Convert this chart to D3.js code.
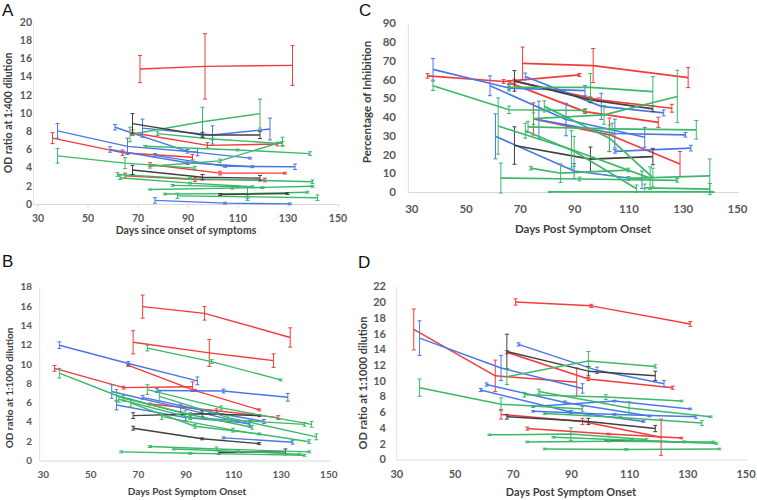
<!DOCTYPE html>
<html><head><meta charset="utf-8">
<script src="https://cdn.jsdelivr.net/npm/d3@7"></script>
<style>
html,body{margin:0;padding:0;background:#fff;}
svg{display:block;}
</style></head>
<body>
<svg id="chart" width="757" height="500"></svg>
<script>
// ---------------- DATA ----------------
const seriesColors = {R:"#f23b3b", B:"#4a78e6", G:"#3cb86a", K:"#404040"};
const xTickValues = [30,50,70,90,110,130,150];

// Panel A : OD ratio at 1:400 dilution
const panelA_colors = ["R","R","R","R","R","B","B","B","B","B","B","G","G","G","G","G","G","G","G","G","G","G","K","K","K"];
const panelA_days = [[71,97,132],[36,64,92],[68,98,126],[75,103,129],[65,93,121],[38,66,94],[61,90,115],[72,100,123],[59,90,116],[77,105,133],[77,105,131],[67,96,119],[38,65,93],[75,103,128],[73,110,139],[78,100,128],[62,91,140],[63,91,116],[84,110,120],[75,108,140],[81,114,138],[86,114,142],[68,96,119],[68,96,119],[103,130]];
const panelA_values = [[14.9,15.2,15.3],[7.3,5.7,5.2],[7.9,6.5,6.65],[4.4,3.45,3.45],[3.15,2.75,2.7],[8.1,6.4,5.75],[8.5,5.85,5.1],[8.4,7.65,8.3],[6.05,4.6,4.15],[5.4,4.2,4.15],[0.45,0.15,0.07],[7.7,9.1,10.0],[5.35,4.55,4.0],[4.2,4.8,6.9],[6.4,6.0,5.6],[7.8,7.2,6.7],[3.3,2.85,2.5],[2.95,2.35,1.95],[2.1,1.95,1.85],[1.65,1.8,2.0],[1.15,1.2,1.35],[0.95,0.85,0.75],[8.9,7.65,7.65],[3.8,3.0,2.9],[1.1,1.2]];
const panelA_errors = [[1.5,3.6,2.2],[0.6,0.3,0.3],[0.3,0.3,0.2],[0.2,0.2,0.1],[0.3,0.2,0.2],[0.8,0.9,0.4],[0.3,0.2,0.1],[1.0,1.0,1.2],[0.3,0.2,0.1],[0.2,0.1,0.3],[0.3,0.1,0.1],[0.8,1.6,1.6],[0.8,0.6,0.2],[0.2,0.2,0.5],[0.1,0.1,0.2],[0.2,0.1,0.2],[0.2,0.1,0.2],[0.2,0.1,0.1],[0.1,0.1,0.1],[0.05,0.1,0.1],[0.1,0.75,0.1],[0.3,0.2,0.3],[1.1,0.3,0.4],[0.5,0.3,0.3],[0.1,0.1]];

// Panel C : Percentage of Inhibition
const panelC_colors = ["R","R","R","R","R","B","B","B","B","B","B","K","K","G","G","G","G","G","G","G","G","G","G","G","G"];
const panelC_days = [[71,97,132],[36,64,92],[68,99,126],[66,94,121],[75,103,129],[38,66,94],[59,87,116],[72,100,123],[61,90,115],[77,105,131],[105,133],[68,96,119],[68,96,119],[38,66,94],[75,101,128],[66,96,119],[62,89,118],[110,140],[63,92,128],[74,85,110],[81,141],[79,103,119],[72,90,113],[116,140],[73,104,135]];
const panelC_values = [[69,67.8,61.4],[62.3,59.3,62.8],[59.5,49.5,45],[58.7,43.2,37.5],[39.3,30.8,15.2],[65.8,55.8,54.4],[57,39,29.5],[62,46,42.5],[30,11.5,6.8],[38.8,31.5,30.8],[22,23.7],[59.6,49.5,44.7],[25.1,17.8,19.2],[57,44.2,43.8],[39.5,41.5,51.3],[56.2,56.2,53.9],[35.5,23,7.7],[7.5,8.9],[7.7,7.2,6.5],[13,10.3,12],[0.3,0.3],[46,29,8],[33,22,2],[2.5,1.8],[35,34,33.5]];
const panelC_errors = [[8.7,9.1,5.4],[1.2,1,0.8],[1,1,2.1],[1,1,2.7],[8.6,9,6.7],[5.8,1,2.7],[5.3,8.7,5.3],[1.8,7,1.6],[12,4,4.7],[10,7.7,1.2],[1,1.5],[5.5,1.5,1.5],[10,6.5,4.4],[2.5,2,1],[3,5,14],[2,7.4,8],[15,10,6],[1,9],[8,1,1],[1,5,1],[0.3,0.3],[3,7,5],[4,8,2],[2,3],[3,3,5]];

// Panel B : OD ratio at 1:1000 dilution
const panelB_colors = ["R","R","R","R","R","B","B","B","B","B","B","K","K","K","G","G","G","G","G","G","G","G","G","G","G"];
const panelB_days = [[72,98,134],[68,100,127],[35,64,93],[66,94,121],[75,103,129],[37,66,95],[59,88,117],[61,90,117],[78,106,133],[72,100,123],[106,135],[68,97,121],[68,97,121],[104,132],[74,101,130],[37,64,92],[61,90,118],[62,92,140],[74,105,143],[79,108,145],[80,110,142],[67,94,121],[75,103,142],[63,92,140],[85,112,138]];
const panelB_values = [[16,15.3,12.8],[12.3,11.2,10.4],[9.6,7.6,7.7],[9.9,7.3,5.3],[5.9,5.2,4.5],[12,10.1,8.3],[7.2,5.5,3.8],[5.8,4.5,3.9],[7.3,7.25,6.6],[6.6,5.1,4.1],[2.4,1.95],[4.7,4.9,4.7],[3.4,2.3,1.8],[0.9,0.95],[11.7,10.3,8.4],[9.1,6.5,4.8],[6.8,4.9,3.5],[6.4,4.5,3.8],[7.4,5.5,3.8],[6.7,4.5,2.5],[4.6,3.2,2.0],[6.0,3.6,2.8],[1.5,1.25,0.95],[0.95,0.8,0.6],[1.25,1.0,0.7]];
const panelB_errors = [[1.2,0.7,1.0],[1.2,1.4,0.7],[0.3,0.15,0.5],[0.1,0.1,0.1],[0.1,0.2,0.2],[0.35,0.2,0.4],[0.7,0.4,0.3],[0.5,0.3,0.3],[0.2,0.2,0.4],[0.2,0.2,0.2],[0.1,0.2],[0.3,0.3,0.1],[0.2,0.1,0.1],[0.2,0.3],[0.3,0.2,0.1],[0.5,0.3,0.2],[0.6,0.3,0.2],[0.3,0.2,0.2],[0.5,0.2,0.3],[0.5,0.2,0.3],[0.3,0.2,0.2],[0.4,0.2,0.1],[0.1,0.2,0.1],[0.1,0.1,0.1],[0.1,0.1,0.1]];

// Panel D : OD ratio at 1:1000 dilution
const panelD_colors = ["R","R","R","R","R","B","B","B","B","B","B","K","K","K","G","G","G","G","G","G","G","G","G"];
const panelD_days = [[71,97,131],[36,64,92],[68,96,125],[66,94,121],[75,103,128],[38,66,94],[72,99,122],[59,90,115],[61,88,117],[77,105,131],[77,105,133],[68,96,119],[68,96,119],[102,129],[38,66,94],[68,96,119],[74,102,128],[79,110,138],[81,107,135],[62,90,116],[75,103,139],[81,109,141],[84,111,140]];
const panelD_values = [[20.1,19.6,17.3],[16.6,10.7,9.9],[13.7,10.3,9.2],[5.8,4.9,2.9],[4.0,3.3,2.8],[15.5,11.7,9.1],[14.7,11.4,9.7],[8.9,6.1,4.9],[9.6,7.3,5.6],[6.8,7.5,6.5],[6.2,5.8,5.5],[13.8,11.3,10.7],[5.5,4.9,4.0],[2.5,2.3],[9.2,7.1,6.5],[10.6,12.6,11.9],[8.3,8.0,7.5],[8.7,6.6,5.5],[5.9,5.4,4.7],[3.2,3.3,2.6],[2.3,2.4,2.3],[1.4,1.35,1.4],[2.9,2.5,2.1]];
const panelD_errors = [[0.4,0.2,0.3],[2.6,2.0,1.8],[0.2,0.2,0.2],[0.6,0.4,2.3],[0.2,0.1,0.1],[2.2,1.6,0.6],[0.2,0.4,0.4],[0.2,0.2,0.1],[0.2,0.2,0.1],[0.1,0.1,0.1],[0.1,0.1,0.2],[2.2,0.6,0.6],[0.3,0.4,0.4],[0.1,0.1],[1.1,0.8,0.3],[1.0,1.2,0.2],[0.3,0.3,0.1],[0.3,0.8,0.1],[0.1,0.1,0.3],[0.1,0.8,0.1],[0.1,0.1,0.1],[0.1,0.1,0.1],[0.1,0.1,0.1]];

// ---------------- DRAW ----------------
const svg = d3.select("#chart");
const FONT = "Lato, 'Liberation Sans', Arial, sans-serif";

function drawPanel(cfg, colors, days, values, errors) {
  const g = svg.append("g");
  const x = d3.scaleLinear().domain([30,150]).range([cfg.x0, cfg.x1]);
  const y = d3.scaleLinear().domain([0, cfg.yMax]).range([cfg.y0, cfg.y1]);

  g.append("line").attr("x1", cfg.x0 - cfg.lineOff).attr("x2", cfg.x1 + 2)
    .attr("y1", cfg.y0).attr("y2", cfg.y0).attr("stroke", "#d9d9d9").attr("stroke-width", 1);
  g.append("line").attr("x1", cfg.x0 - cfg.lineOff).attr("x2", cfg.x0 - cfg.lineOff)
    .attr("y1", cfg.y0).attr("y2", cfg.y1).attr("stroke", "#e3e3e3").attr("stroke-width", 1);

  const xAxis = d3.axisBottom(x).tickValues(xTickValues).tickSize(cfg.tick).tickSizeOuter(0);
  const xg = g.append("g").attr("transform", `translate(0,${cfg.y0})`).call(xAxis);
  xg.select(".domain").remove();
  xg.selectAll(".tick line").attr("stroke", "#d9d9d9");
  xg.selectAll(".tick text").attr("dy", null).attr("y", cfg.xLabY - cfg.y0)
    .attr("dominant-baseline", "middle")
    .attr("font-family", FONT).attr("font-weight", "bold").attr("font-size", cfg.fs).attr("fill", "#595959");

  const yAxis = d3.axisLeft(y).tickValues(d3.range(0, cfg.yMax + 0.001, cfg.yStep)).tickSize(0);
  const yg = g.append("g").attr("transform", `translate(${cfg.yLabX},0)`).call(yAxis);
  yg.select(".domain").remove();
  yg.selectAll(".tick text").attr("x", 0).attr("dy", null).attr("dominant-baseline", "middle")
    .attr("font-family", FONT).attr("font-weight", "bold").attr("font-size", cfg.fs).attr("fill", "#595959");

  g.append("text").attr("x", cfg.xTitle[0]).attr("y", cfg.xTitle[1]).attr("text-anchor", "middle")
    .attr("dominant-baseline", "middle").attr("font-family", FONT).attr("font-weight", "bold")
    .attr("font-size", cfg.tfs).attr("fill", "#404040").text(cfg.xTitleText);
  g.append("text").attr("transform", `translate(${cfg.yTitle[0]},${cfg.yTitle[1]}) rotate(-90)`)
    .attr("text-anchor", "middle").attr("dominant-baseline", "middle").attr("font-family", FONT)
    .attr("font-weight", "bold").attr("font-size", cfg.tfs).attr("fill", "#404040").text(cfg.yTitleText);
  g.append("text").attr("x", cfg.letter[0]).attr("y", cfg.letter[1]).attr("font-family", "'Liberation Sans', Arial, sans-serif")
    .attr("font-size", 17).attr("fill", "#111").text(cfg.letterText);

  const line = d3.line().x(p => x(p[0])).y(p => y(p[1]));
  colors.forEach((c, i) => {
    const pts = days[i].map((d, j) => [d, values[i][j], errors[i][j]]);
    const col = seriesColors[c];
    const sg = g.append("g");
    sg.append("path").attr("d", line(pts)).attr("fill", "none").attr("stroke", col)
      .attr("stroke-width", cfg.sw).attr("stroke-linejoin", "round");
    pts.forEach(p => {
      const cx = x(p[0]), yt = y(p[1] + p[2]), yb = y(p[1] - p[2]);
      sg.append("line").attr("x1", cx).attr("x2", cx).attr("y1", yt).attr("y2", yb)
        .attr("stroke", col).attr("stroke-width", 1);
      [yt, yb].forEach(yy => sg.append("line").attr("x1", cx - 2).attr("x2", cx + 2)
        .attr("y1", yy).attr("y2", yy).attr("stroke", col).attr("stroke-width", 1));
    });
  });
}

drawPanel({x0:37.5, x1:337.5, y0:204.5, y1:22.7, yMax:20, yStep:2, lineOff:4, tick:3, xLabY:219, yLabX:32,
  fs:10.5, tfs:10.5, sw:1.4, xTitle:[186,231], yTitle:[9,113], letter:[2,16], letterText:"A",
  xTitleText:"Days since onset of symptoms", yTitleText:"OD ratio at 1:400 dilution"},
  panelA_colors, panelA_days, panelA_values, panelA_errors);

drawPanel({x0:411.3, x1:737, y0:192.5, y1:24, yMax:90, yStep:10, lineOff:3, tick:0, xLabY:210, yLabX:396,
  fs:11.5, tfs:11.5, sw:1.7, xTitle:[583,230], yTitle:[368,102], letter:[359,16], letterText:"C",
  xTitleText:"Days Post Symptom Onset", yTitleText:"Percentage of Inhibition"},
  panelC_colors, panelC_days, panelC_values, panelC_errors);

drawPanel({x0:42.7, x1:328.3, y0:461, y1:287.3, yMax:18, yStep:2, lineOff:3, tick:0, xLabY:475, yLabX:32,
  fs:10, tfs:10, sw:1.4, xTitle:[187,492], yTitle:[10,388], letter:[2,267], letterText:"B",
  xTitleText:"Days Post Symptom Onset", yTitleText:"OD ratio at 1:1000 dilution"},
  panelB_colors, panelB_days, panelB_values, panelB_errors);

drawPanel({x0:396.3, x1:745.5, y0:460, y1:287, yMax:22, yStep:2, lineOff:0, tick:0, xLabY:475, yLabX:386,
  fs:11, tfs:11, sw:1.5, xTitle:[571,493], yTitle:[364,383], letter:[358,268], letterText:"D",
  xTitleText:"Days Post Symptom Onset", yTitleText:"OD ratio at 1:1000 dilution"},
  panelD_colors, panelD_days, panelD_values, panelD_errors);
</script>
</body></html>
